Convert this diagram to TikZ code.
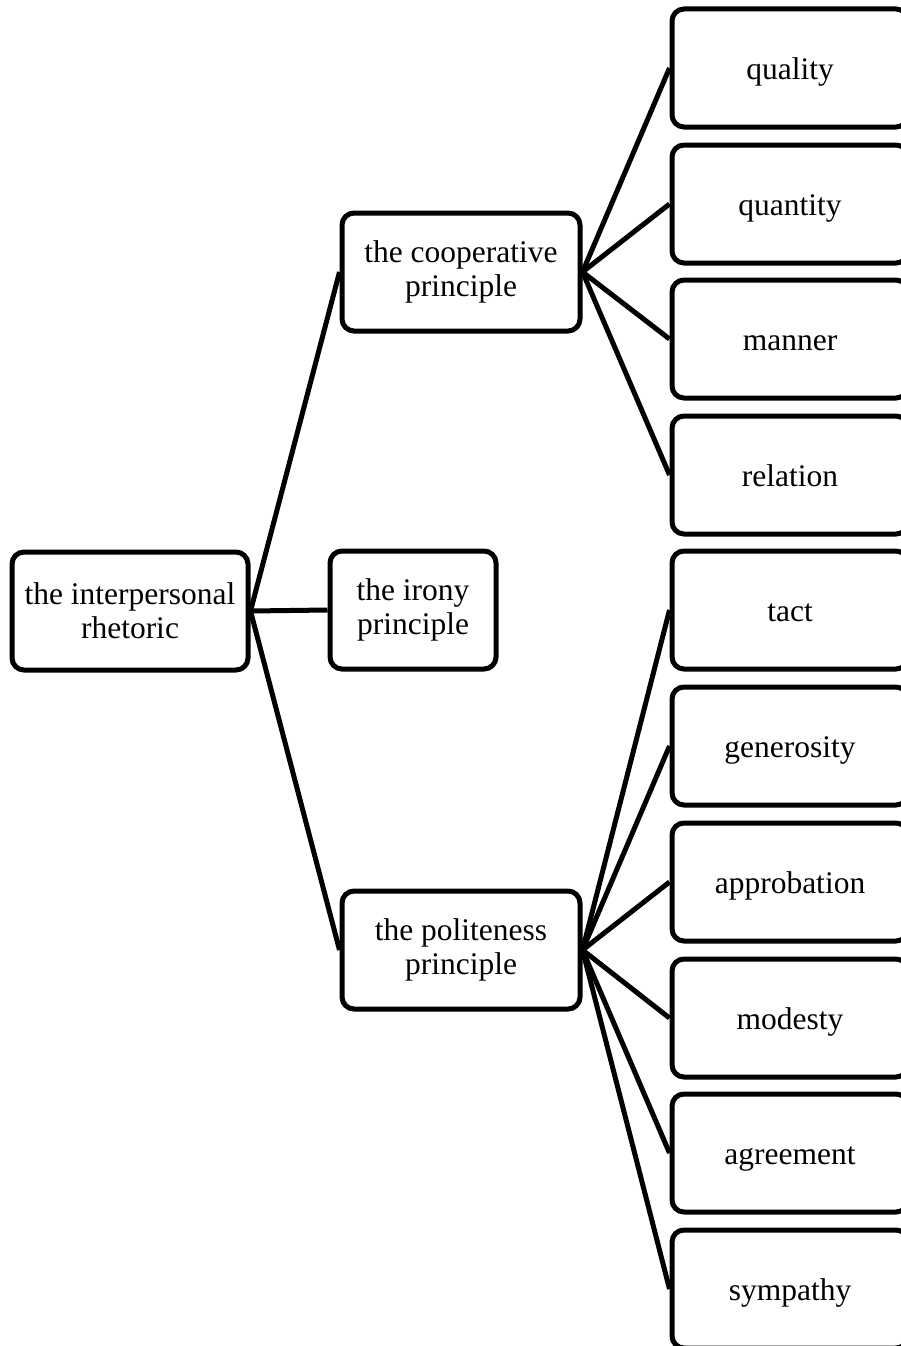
\documentclass[tikz,border=0pt]{standalone}
\usepackage{fontspec}
\setmainfont{Liberation Serif}
\begin{document}
\begin{tikzpicture}[x=1pt,y=-1pt,
  box/.style={draw=black, line width=5pt, rounded corners=12pt, fill=white,
    inner sep=0pt, align=center, minimum height=118pt,
    font=\fontsize{31.5}{34}\selectfont},
  wide/.style={box, minimum width=236pt, text height=31pt, text depth=8pt},
  link/.style={line width=5pt}]
\useasboundingbox (0,0) rectangle (901,1346);
\clip (0,0) rectangle (901,1346);
% root and middle level
\node[box, minimum width=236pt] (root) at (130,611) {the interpersonal\\rhetoric};
\node[box, minimum width=166pt] (irony) at (413,610) {the irony\\principle};
\node[box, minimum width=238pt] (coop) at (461,272) {the cooperative\\principle};
\node[box, minimum width=238pt] (polite) at (461,950) {the politeness\\principle};
% maxims
\node[wide] (quality) at (790,68) {quality};
\node[wide] (quantity) at (790,204) {quantity};
\node[wide] (manner) at (790,339) {manner};
\node[wide] (relation) at (790,475) {relation};
\node[wide] (tact) at (790,610) {tact};
\node[wide] (generosity) at (790,746) {generosity};
\node[wide] (approbation) at (790,882) {approbation};
\node[wide] (modesty) at (790,1018) {modesty};
\node[wide] (agreement) at (790,1153) {agreement};
\node[wide] (sympathy) at (790,1289) {sympathy};
% connectors
\foreach \t in {coop,irony,polite}
  \draw[link] (root.east) -- (\t.west);
\foreach \t in {quality,quantity,manner,relation}
  \draw[link] (coop.east) -- (\t.west);
\foreach \t in {tact,generosity,approbation,modesty,agreement,sympathy}
  \draw[link] (polite.east) -- (\t.west);
\end{tikzpicture}
\end{document}
